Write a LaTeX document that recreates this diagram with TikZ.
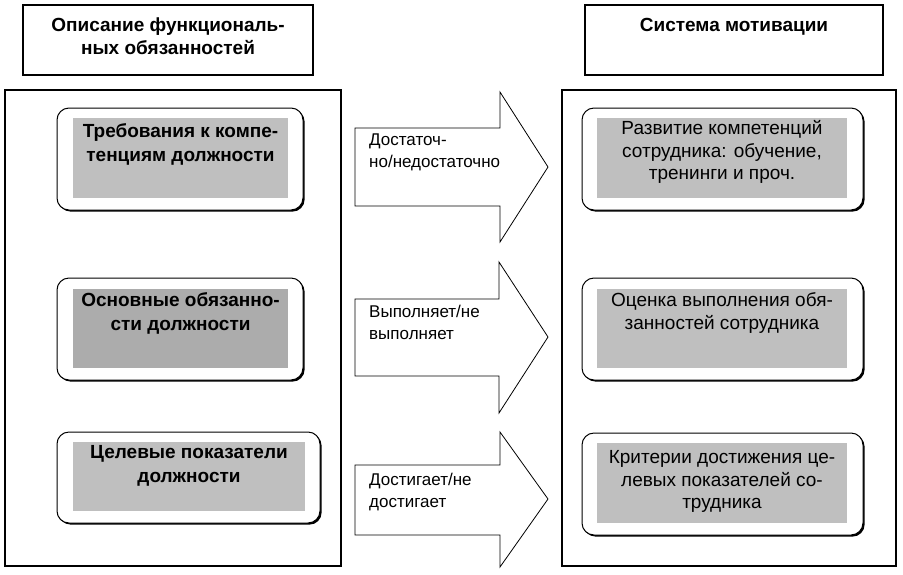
\documentclass[tikz,border=0pt]{standalone}
\usepackage{fontspec}
\setmainfont{Liberation Sans}
\usetikzlibrary{shadows}
\begin{document}
\begin{tikzpicture}[x=1pt,y=-1pt,
  frame/.style={draw,line width=1.3pt,inner sep=0pt},
  rbox/.style={draw,line width=1pt,rounded corners=12pt,fill=white,inner sep=0pt,
    drop shadow={shadow xshift=1.6pt,shadow yshift=-1.6pt,fill=black,opacity=1}},
  gbox/.style={fill=#1,inner sep=0pt},
  gbox/.default={gray!50},
  btxt/.style={font=\fontsize{19}{23.5}\selectfont\bfseries,align=center,inner sep=0pt,anchor=north},
  rtxt/.style={font=\fontsize{19}{22.5}\selectfont,align=center,inner sep=0pt,anchor=north},
  atxt/.style={font=\fontsize{17}{22}\selectfont,align=left,inner sep=0pt,anchor=north west},
  arr/.style={draw,line width=0.8pt,fill=white,line join=miter}]
\useasboundingbox (0,0) rectangle (903,574);
% title boxes
\node[frame,minimum width=290pt,minimum height=70pt] (lt) at (168,40) {};
\node[btxt] (ltt) at (168,17.5) {Описание функциональ-\\ных обязанностей};
\node[frame,minimum width=298pt,minimum height=70pt] (rt) at (734,40) {};
\node[btxt] (rtt) at (734,18.5) {Система мотивации};
% big frames
\node[frame,minimum width=336pt,minimum height=476pt] (lf) at (173,328) {};
\node[frame,minimum width=334pt,minimum height=476pt] (rf) at (729,328) {};
% left boxes
\node[rbox,minimum width=246pt,minimum height=102pt] (l1) at (180,159) {};
\node[gbox,minimum width=215pt,minimum height=80pt] (l1g) at (180.5,158) {};
\node[btxt] (l1t) at (180.5,123.5) {Требования к компе-\\тенциям должности};
\node[rbox,minimum width=246pt,minimum height=102pt] (l2) at (180,329) {};
\node[gbox=gray!65,minimum width=215pt,minimum height=79pt] (l2g) at (180.5,328.5) {};
\node[btxt] (l2t) at (180.5,292.5) {Основные обязанно-\\сти должности};
\node[rbox,minimum width=263pt,minimum height=91pt] (l3) at (188.5,477.5) {};
\node[gbox,minimum width=232pt,minimum height=69pt] (l3g) at (189,476.5) {};
\node[btxt] (l3t) at (189,445.5) {Целевые показатели\\должности};
% right boxes
\node[rbox,minimum width=281pt,minimum height=102pt] (r1) at (722.5,159) {};
\node[gbox,minimum width=250pt,minimum height=80pt] (r1g) at (722,158) {};
\node[rtxt] (r1t) at (722,120.5) {Развитие компетенций\\сотрудника: обучение,\\тренинги и проч.};
\node[rbox,minimum width=281pt,minimum height=102pt] (r2) at (722.5,329) {};
\node[gbox,minimum width=250pt,minimum height=79pt] (r2g) at (722,328.5) {};
\node[rtxt] (r2t) at (722,292.5) {Оценка выполнения обя-\\занностей сотрудника};
\node[rbox,minimum width=281pt,minimum height=102pt] (r3) at (722.5,484) {};
\node[gbox,minimum width=250pt,minimum height=80pt] (r3g) at (722,483) {};
\node[rtxt] (r3t) at (722,450.5) {Критерии достижения це-\\левых показателей со-\\трудника};
% arrows
\draw[arr] (355,128) -- (500,128) -- (500,92) -- (548,167) -- (500,242) -- (500,206) -- (355,206) -- cycle;
\node[atxt] (a1t) at (369,133.5) {Достаточ-\\но/недостаточно};
\draw[arr] (355,299) -- (499,299) -- (499,262) -- (548,337) -- (499,413) -- (499,376) -- (355,376) -- cycle;
\node[atxt] (a2t) at (369,304.5) {Выполняет/не\\выполняет};
\draw[arr] (355,465) -- (500,465) -- (500,432) -- (548,499) -- (500,567) -- (500,535) -- (355,535) -- cycle;
\node[atxt] (a3t) at (369,472.5) {Достигает/не\\достигает};
\end{tikzpicture}
\end{document}
